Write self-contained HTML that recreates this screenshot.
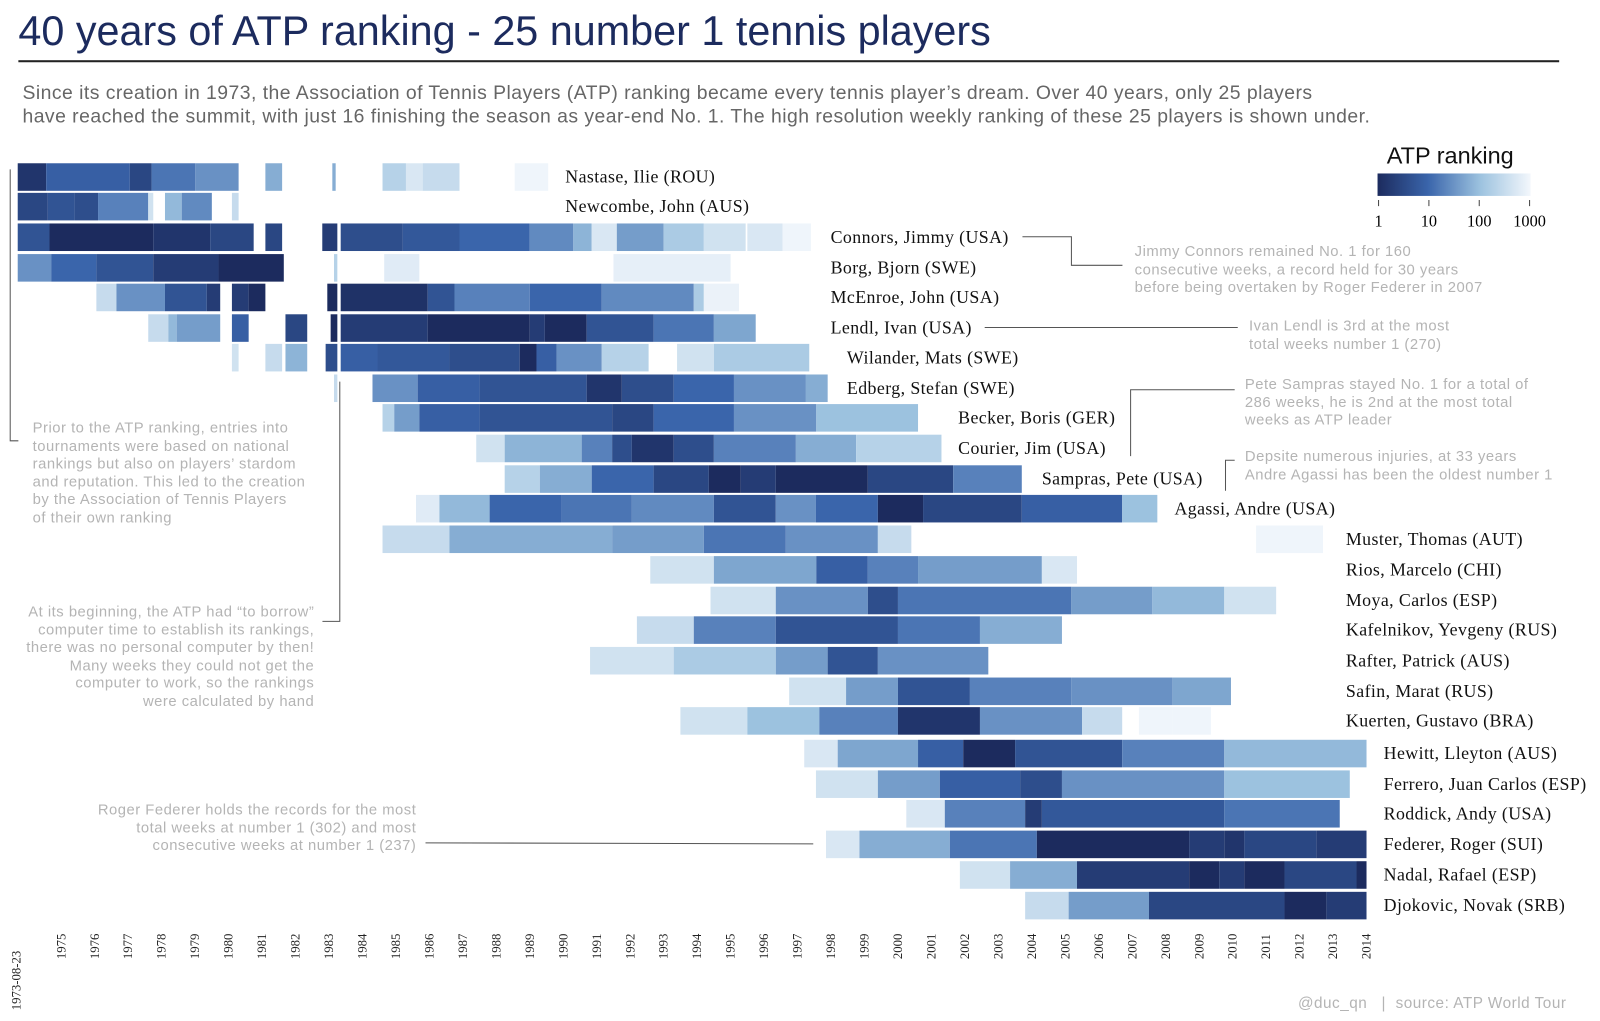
<!DOCTYPE html>
<html><head><meta charset="utf-8"><style>
body{margin:0;background:#fff;width:1600px;height:1021px;overflow:hidden;font-family:"Liberation Sans",sans-serif}
#wrap{position:absolute;left:0;top:0;width:1568px;height:1001px;transform:scale(1.0204);transform-origin:0 0}
.ann{position:absolute;color:#b4b4b4;font-size:14.5px;line-height:17.5px;letter-spacing:0.5px}
</style></head><body>
<div id="wrap">
<div style="position:absolute;left:18px;top:7px;font-size:40.5px;color:#1c2b5e">40 years of ATP ranking - 25 number 1 tennis players</div>
<div style="position:absolute;left:18px;top:59px;width:1510px;height:2px;background:#222"></div>
<div style="position:absolute;left:22px;top:80px;font-size:19px;line-height:23px;color:#666;letter-spacing:0.45px;white-space:nowrap">Since its creation in 1973, the Association of Tennis Players (ATP) ranking became every tennis player’s dream. Over 40 years, only 25 players<br>have reached the summit, with just 16 finishing the season as year-end No. 1. The high resolution weekly ranking of these 25 players is shown under.</div>
<div style="position:absolute;left:1359px;top:139px;font-size:23px;color:#111">ATP ranking</div>
<div style="position:absolute;left:1350px;top:170px;width:150px;height:22px;background:linear-gradient(90deg,#1c2b5e,#3a65ab 33%,#9cc2df 67%,#f3f7fc)"></div>
<div class="ann" style="left:32px;top:412px">Prior to the ATP ranking, entries into<br>tournaments were based on national<br>rankings but also on players’ stardom<br>and reputation. This led to the creation<br>by the Association of Tennis Players<br>of their own ranking</div>
<div class="ann" style="left:0px;top:592px;width:308px;text-align:right">At its beginning, the ATP had “to borrow”<br>computer time to establish its rankings,<br>there was no personal computer by then!<br>Many weeks they could not get the<br>computer to work, so the rankings<br>were calculated by hand</div>
<div class="ann" style="left:40px;top:786px;width:368px;text-align:right">Roger Federer holds the records for the most<br>total weeks at number 1 (302) and most<br>consecutive weeks at number 1 (237)</div>
<div class="ann" style="left:1112px;top:239px;white-space:nowrap">Jimmy Connors remained No. 1 for 160<br>consecutive weeks, a record held for 30 years<br>before being overtaken by Roger Federer in 2007</div>
<div class="ann" style="left:1224px;top:312px">Ivan Lendl is 3rd at the most<br>total weeks number 1 (270)</div>
<div class="ann" style="left:1220px;top:369px;white-space:nowrap">Pete Sampras stayed No. 1 for a total of<br>286 weeks, he is 2nd at the most total<br>weeks as ATP leader</div>
<div class="ann" style="left:1220px;top:440px;white-space:nowrap">Depsite numerous injuries, at 33 years<br>Andre Agassi has been the oldest number 1</div>
<div class="ann" style="left:1272px;top:975px;font-size:15px;white-space:nowrap">@duc_qn &nbsp;&nbsp;| &nbsp;source: ATP World Tour</div>
<svg id="chart" width="1568" height="1001" style="position:absolute;left:0;top:0">
<g id="lines" stroke="#555" stroke-width="1" fill="none">
<polyline points="1002,232 1050,232 1050,260 1100,260"/>
<polyline points="965,321 1213,321"/>
<polyline points="1108,447 1108,382 1210,382"/>
<polyline points="1201,481 1201,451 1210,451"/>
<polyline points="10,166 10,432 18,432"/>
<polyline points="333,374 333,609 316,609"/>
<polyline points="417,826 797,827"/>
</g>
</svg>
</div>
<script>
const players=["Nastase, Ilie (ROU)","Newcombe, John (AUS)","Connors, Jimmy (USA)","Borg, Bjorn (SWE)","McEnroe, John (USA)","Lendl, Ivan (USA)","Wilander, Mats (SWE)","Edberg, Stefan (SWE)","Becker, Boris (GER)","Courier, Jim (USA)","Sampras, Pete (USA)","Agassi, Andre (USA)","Muster, Thomas (AUT)","Rios, Marcelo (CHI)","Moya, Carlos (ESP)","Kafelnikov, Yevgeny (RUS)","Rafter, Patrick (AUS)","Safin, Marat (RUS)","Kuerten, Gustavo (BRA)","Hewitt, Lleyton (AUS)","Ferrero, Juan Carlos (ESP)","Roddick, Andy (USA)","Federer, Roger (SUI)","Nadal, Rafael (ESP)","Djokovic, Novak (SRB)"];
// segments: [startYear, endYear, rank]
const rankSegments=[
[[1973.7,1974.55,1.5],[1974.55,1977.05,8],[1977.05,1977.7,3],[1977.7,1979.0,15],[1979.0,1980.3,30],[1981.1,1981.6,60],[1983.1,1983.2,60],[1984.6,1985.3,200],[1985.3,1985.8,500],[1985.8,1986.9,300],[1988.55,1989.55,900]],
[[1973.7,1974.6,3],[1974.6,1975.4,5],[1975.4,1976.1,4],[1976.1,1977.6,20],[1977.6,1977.75,400],[1978.1,1978.6,80],[1978.6,1979.5,25],[1980.1,1980.3,300]],
[[1973.7,1974.65,5],[1974.65,1977.75,1],[1977.75,1979.45,1.5],[1979.45,1980.75,3],[1981.1,1981.6,3],[1982.8,1983.25,2],[1983.35,1985.2,4],[1985.2,1986.9,6],[1986.9,1989.0,10],[1989.0,1990.3,25],[1990.3,1990.85,70],[1990.85,1991.6,500],[1991.6,1993.0,40],[1993.0,1994.2,150],[1994.2,1995.45,400],[1995.5,1996.55,500],[1996.55,1997.4,900]],
[[1973.7,1974.7,30],[1974.7,1976.05,10],[1976.05,1977.75,5],[1977.75,1979.7,2],[1979.7,1981.65,1],[1983.15,1983.25,200],[1984.65,1985.7,600],[1991.5,1995.0,700]],
[[1976.05,1976.65,300],[1976.65,1978.1,30],[1978.1,1979.35,5],[1979.35,1979.75,2],[1980.1,1980.6,2],[1980.6,1981.1,1],[1982.95,1983.25,1],[1983.35,1985.95,1.3],[1985.95,1986.75,5],[1986.75,1989.0,20],[1989.0,1991.15,10],[1991.15,1993.9,25],[1993.9,1994.2,150],[1994.2,1995.25,800]],
[[1977.6,1978.2,300],[1978.2,1978.45,80],[1978.45,1979.75,40],[1980.1,1980.6,8],[1981.7,1982.35,3],[1983.05,1983.25,1],[1983.35,1985.95,2],[1985.95,1989.0,1],[1989.0,1989.45,2],[1989.45,1990.7,1],[1990.7,1992.7,5],[1992.7,1994.5,15],[1994.5,1995.75,50]],
[[1980.1,1980.3,400],[1981.1,1981.6,300],[1981.7,1982.35,70],[1982.9,1983.25,4],[1983.35,1984.45,8],[1984.45,1986.6,6],[1986.6,1988.7,4],[1988.7,1989.2,1],[1989.2,1989.8,8],[1989.8,1991.15,30],[1991.15,1992.55,200],[1993.4,1994.5,400],[1994.5,1997.35,150]],
[[1983.15,1983.25,300],[1984.3,1985.65,30],[1985.65,1987.5,8],[1987.5,1990.7,5],[1990.7,1991.75,1.5],[1991.75,1993.3,4],[1993.3,1995.1,10],[1995.1,1997.25,30],[1997.25,1997.9,60]],
[[1984.6,1984.95,200],[1984.95,1985.7,40],[1985.7,1987.5,8],[1987.5,1991.46,5],[1991.46,1992.7,3],[1992.7,1995.1,10],[1995.1,1997.56,30],[1997.56,2000.6,100]],
[[1987.4,1988.25,400],[1988.25,1990.55,70],[1990.55,1991.46,20],[1991.46,1992.05,4],[1992.05,1993.3,1.5],[1993.3,1994.5,4],[1994.5,1996.95,20],[1996.95,1998.75,60],[1998.75,2001.3,200]],
[[1988.25,1989.3,200],[1989.3,1990.85,60],[1990.85,1992.7,10],[1992.7,1994.35,3],[1994.35,1995.3,1],[1995.3,1996.35,2],[1996.35,1999.1,1],[1999.1,2001.65,3],[2001.65,2003.7,20]],
[[1985.6,1986.3,600],[1986.3,1987.8,80],[1987.8,1989.95,10],[1989.95,1992.05,15],[1992.05,1994.5,25],[1994.5,1996.35,5],[1996.35,1997.55,30],[1997.55,1999.4,10],[1999.4,2000.75,1],[2000.75,2003.7,3],[2003.7,2006.7,8],[2006.7,2007.75,100]],
[[1984.6,1986.6,300],[1986.6,1991.46,60],[1991.46,1994.2,40],[1994.2,1996.65,15],[1996.65,1999.4,30],[1999.4,2000.4,300],[2010.7,2012.7,900]],
[[1992.6,1994.5,400],[1994.5,1997.56,50],[1997.56,1999.1,8],[1999.1,2000.6,20],[2000.6,2004.3,40],[2004.3,2005.35,500]],
[[1994.4,1996.35,400],[1996.35,1999.1,30],[1999.1,2000.0,4],[2000.0,2005.18,15],[2005.18,2007.6,40],[2007.6,2009.75,80],[2009.75,2011.3,400]],
[[1992.2,1993.9,300],[1993.9,1996.35,20],[1996.35,2000.0,5],[2000.0,2002.45,15],[2002.45,2004.9,60]],
[[1990.8,1993.3,400],[1993.3,1996.35,150],[1996.35,1997.9,40],[1997.9,1999.4,5],[1999.4,2002.7,30]],
[[1996.75,1998.45,400],[1998.45,2000.0,40],[2000.0,2002.15,5],[2002.15,2005.18,20],[2005.18,2008.2,30],[2008.2,2009.95,50]],
[[1993.5,1995.5,400],[1995.5,1997.65,100],[1997.65,2000.0,20],[2000.0,2002.45,1.5],[2002.45,2005.5,30],[2005.5,2006.7,300],[2007.2,2008.2,900],[2008.2,2009.35,900]],
[[1997.2,1998.2,500],[1998.2,2000.6,50],[2000.6,2001.95,8],[2001.95,2003.5,1],[2003.5,2006.7,5],[2006.7,2009.75,20],[2009.75,2014.0,80]],
[[1997.55,1999.4,400],[1999.4,2001.25,40],[2001.25,2003.65,8],[2003.65,2004.9,4],[2004.9,2009.75,30],[2009.75,2013.5,100]],
[[2000.25,2001.4,500],[2001.4,2003.8,20],[2003.8,2004.3,2],[2004.3,2009.75,6],[2009.75,2013.2,15]],
[[1997.85,1998.85,500],[1998.85,2001.55,60],[2001.55,2004.15,15],[2004.15,2008.7,1],[2008.7,2009.75,2],[2009.75,2010.35,1.5],[2010.35,2012.5,3],[2012.5,2014.0,2]],
[[2001.85,2003.35,400],[2003.35,2005.35,60],[2005.35,2008.7,2],[2008.7,2009.6,1],[2009.6,2010.35,2],[2010.35,2011.55,1],[2011.55,2013.7,3],[2013.7,2014.0,1]],
[[2003.8,2005.1,300],[2005.1,2007.5,40],[2007.5,2011.55,3],[2011.55,2012.8,1],[2012.8,2014.0,2]]];
const labelX=[554,554,814,814,814,814,830,830,939,939,1021,1151,1319,1319,1319,1319,1319,1319,1319,1356,1356,1356,1356,1356,1356];
const rowY=[173,202,232,262,291,321,350,380,409,439,469,498,528,558,588,617,647,677,706,738,768,797,827,857,887];
const tickYears=[1975,1976,1977,1978,1979,1980,1981,1982,1983,1984,1985,1986,1987,1988,1989,1990,1991,1992,1993,1994,1995,1996,1997,1998,1999,2000,2001,2002,2003,2004,2005,2006,2007,2008,2009,2010,2011,2012,2013,2014];
const legendTicks=[1,10,100,1000];

const NS="http://www.w3.org/2000/svg";
const svg=document.getElementById('chart');
function xScale(y){return 60+(y-1975)*32.8;}
const stops=[[28,43,94],[58,101,171],[156,194,223],[243,247,252]];
function color(r){let t=Math.min(1,Math.max(0,Math.log10(r)/3))*3;let i=Math.min(2,Math.floor(t)),f=t-i;const a=stops[i],b=stops[i+1];return `rgb(${a.map((v,k)=>Math.round(v+(b[k]-v)*f)).join(',')})`;}
function lgX(r){return 1351+Math.log10(r)/3*148;}
rankSegments.forEach((segs,p)=>{
  const g=document.createElementNS(NS,'g');
  
  
  segs.forEach(s=>{
    const r=document.createElementNS(NS,'rect');
    
    
    const x0=xScale(s[0]),x1=xScale(s[1]);
    r.setAttribute('x',x0);r.setAttribute('width',Math.max(1.5,x1-x0));
    r.setAttribute('y',rowY[p]-13);r.setAttribute('height',27);
    r.setAttribute('fill',color(s[2]));
    g.appendChild(r);
  });
  svg.appendChild(g);
  const t=document.createElementNS(NS,'text');
  
  
  t.setAttribute('x',labelX[p]);t.setAttribute('y',rowY[p]+6);
  t.setAttribute('font-family','Liberation Serif, serif');t.setAttribute('font-size','17.5');t.setAttribute('letter-spacing','0.4');t.setAttribute('fill','#111');
  t.textContent=players[p];svg.appendChild(t);
});
function vtext(x,y,s){const t=document.createElementNS(NS,'text');
  
  
  t.setAttribute('transform',`translate(${x},${y}) rotate(-90)`);
  t.setAttribute('font-family','Liberation Serif, serif');t.setAttribute('font-size','12.5');t.setAttribute('fill','#222');
  t.textContent=s;svg.appendChild(t);}
vtext(20,990,'1973-08-23');
tickYears.forEach(y=>vtext(xScale(y)+4,940,String(y)));
legendTicks.forEach(v=>{
  const l=document.createElementNS(NS,'line');
  
  
  l.setAttribute('x1',lgX(v));l.setAttribute('x2',lgX(v));l.setAttribute('y1',196);l.setAttribute('y2',202);l.setAttribute('stroke','#444');
  svg.appendChild(l);
  const t=document.createElementNS(NS,'text');
  
  
  t.setAttribute('x',lgX(v));t.setAttribute('y',222);t.setAttribute('text-anchor','middle');
  t.setAttribute('font-family','Liberation Serif, serif');t.setAttribute('font-size','16');
  t.textContent=String(v);svg.appendChild(t);
});
</script>
</body></html>
